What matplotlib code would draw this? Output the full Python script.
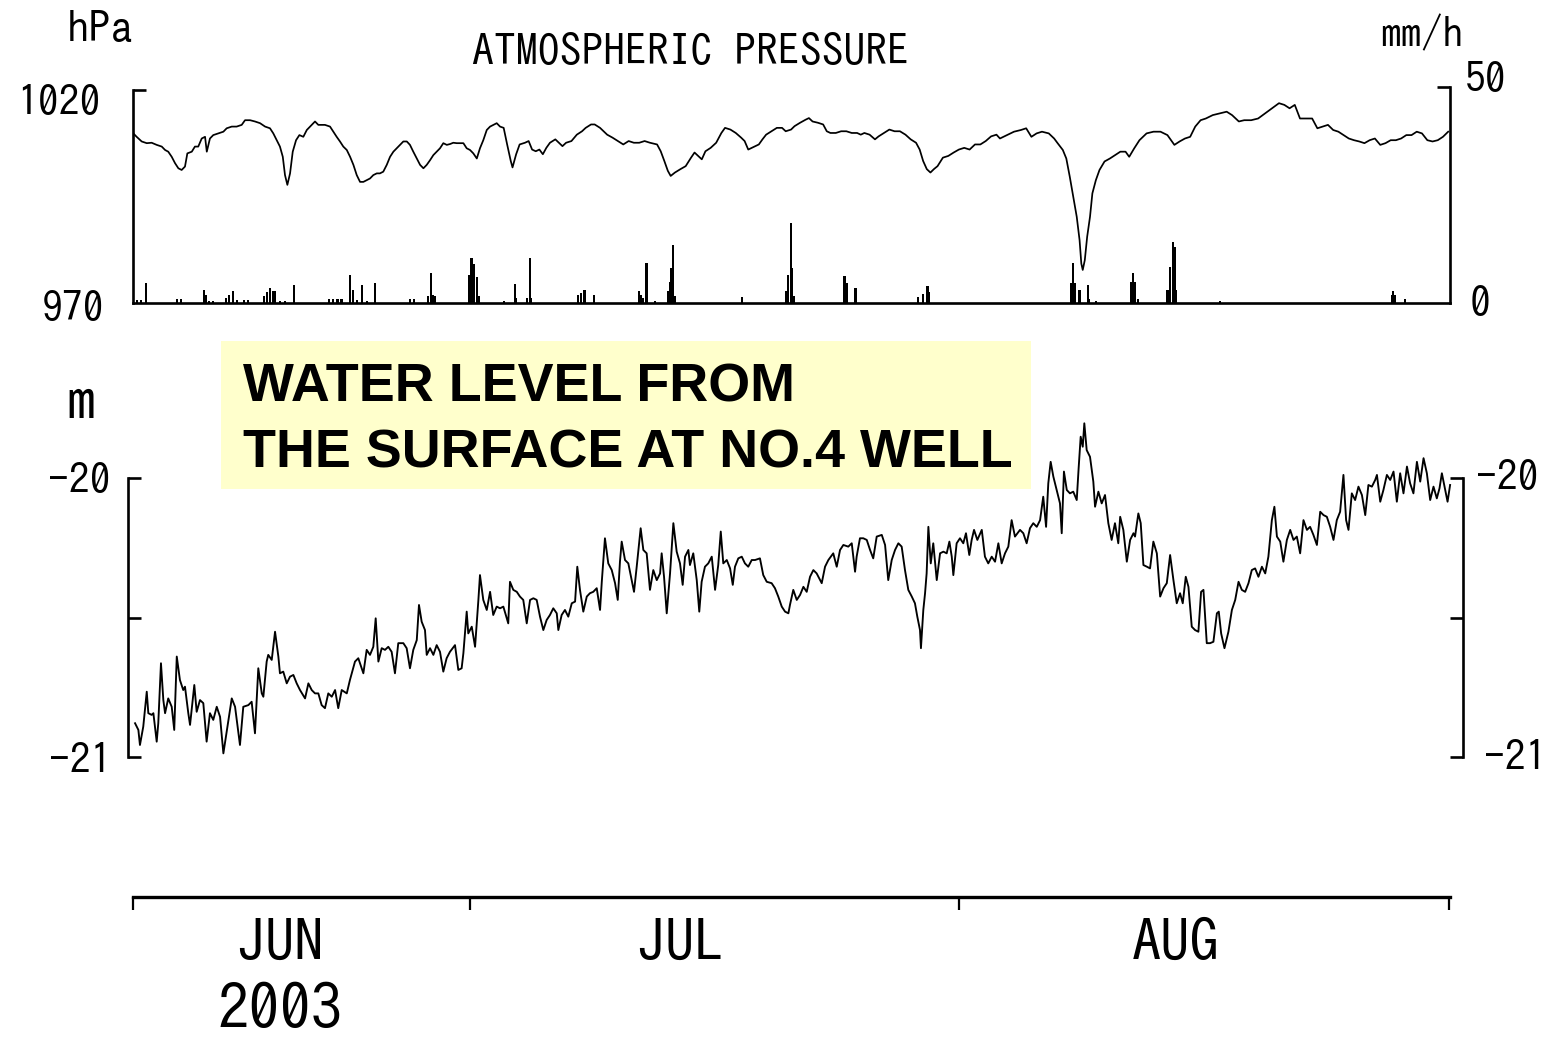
import matplotlib
matplotlib.use("Agg")
import matplotlib.pyplot as plt
from matplotlib.patches import Rectangle
from matplotlib.transforms import blended_transform_factory

# ---------------------------------------------------------------
# Data (time in days since 2003-06-01 00:00)
# ---------------------------------------------------------------
pressure_day = [
    8.72, 8.93, 9.25, 9.57, 9.88, 10.20, 10.52, 10.73, 10.93, 11.15, 11.36, 11.57,
    11.78, 11.99, 12.14, 12.42, 12.62, 12.83, 13.05, 13.26, 13.37, 13.57, 13.78, 14.10,
    14.42, 14.63, 14.95, 15.26, 15.58, 15.79, 16.11, 16.42, 16.74, 17.06, 17.37, 17.58,
    17.80, 18.00, 18.18, 18.32, 18.47, 18.64, 18.81, 19.02, 19.23, 19.48, 19.70, 20.01,
    20.22, 20.43, 20.64, 20.85, 21.17, 21.38, 21.59, 21.80, 22.01, 22.23, 22.44, 22.65,
    22.86, 23.07, 23.28, 23.49, 23.70, 23.91, 24.13, 24.33, 24.54, 24.76, 24.97, 25.18,
    25.39, 25.60, 25.81, 26.03, 26.23, 26.44, 26.66, 26.87, 27.08, 27.29, 27.50, 27.71,
    27.92, 28.13, 28.34, 28.56, 28.77, 28.97, 29.19, 29.40, 29.61, 29.82, 30.03, 30.24,
    30.46, 30.66, 30.87, 31.09, 31.30, 31.51, 31.72, 31.93,
    32.16, 32.38, 32.61, 32.72, 32.95, 33.17, 33.51, 33.74, 33.96, 34.19, 34.42, 34.64,
    34.86, 35.09, 35.43, 35.66, 35.88, 36.11, 36.45, 36.79, 37.12, 37.35, 37.69, 37.92,
    38.26, 38.49, 38.71, 39.05, 39.39, 39.73, 40.07, 40.40, 40.74, 41.08, 41.42, 41.87,
    42.10, 42.33, 42.55, 42.73, 43.00, 43.35, 43.68, 44.02, 44.24, 44.47, 44.70, 44.93,
    45.26, 45.61, 45.94, 46.17, 46.51, 46.85, 47.19, 47.41, 47.64, 47.86, 48.09, 48.31,
    48.54, 48.77, 49.11, 49.45, 49.78, 50.01, 50.35, 50.57, 50.92, 51.26, 51.48, 51.71,
    52.05, 52.38, 52.61, 52.84, 53.18, 53.52, 53.85, 54.19, 54.53, 54.76, 54.99, 55.32,
    55.66, 55.89, 56.23, 56.57, 56.90, 57.24, 57.59, 57.92, 58.26, 58.49, 58.71, 58.94,
    59.17, 59.39, 59.62, 59.96, 60.30, 60.64, 60.97, 61.31, 61.65, 61.99, 62.33, 62.67,
    63.01, 63.35,
    63.57, 64.02, 64.46, 64.90, 65.23, 65.56, 65.89, 66.23, 66.66, 67.00, 67.22, 67.55,
    67.77, 67.99, 68.21, 68.43, 68.61, 68.72, 68.81, 68.94, 69.09, 69.27, 69.42, 69.64,
    69.87, 70.19, 70.53, 70.86, 71.19, 71.52, 71.75, 72.07, 72.40, 72.85, 73.29, 73.73,
    74.17, 74.61, 74.94, 75.28, 75.61, 75.93, 76.27, 76.60, 77.04, 77.48, 77.92, 78.26,
    78.69, 79.03, 79.47, 79.91, 80.35, 80.80, 81.23, 81.57, 81.90, 82.23, 82.56, 82.89,
    83.33, 83.66, 83.99, 84.33, 84.66, 84.99, 85.32, 85.65, 85.98, 86.31, 86.64, 86.97,
    87.30, 87.64, 87.97, 88.30, 88.63, 88.96, 89.29, 89.62, 89.95, 90.28, 90.62, 90.95,
    91.28, 91.61, 91.94,
]
pressure_hpa = [
    1009.8, 1009.0, 1007.9, 1007.5, 1007.6, 1007.1, 1006.7, 1005.9, 1005.5, 1004.3, 1002.8, 1001.6,
    1001.2, 1002.0, 1005.1, 1005.5, 1006.7, 1006.7, 1008.6, 1009.0, 1005.5, 1008.6, 1009.4, 1009.8,
    1010.2, 1011.0, 1011.4, 1011.4, 1011.8, 1012.9, 1012.9, 1012.6, 1012.2, 1011.4, 1011.0, 1009.8,
    1008.2, 1006.7, 1004.3, 1000.0, 997.7, 1000.4, 1005.5, 1008.2, 1009.4, 1009.0, 1010.6, 1011.8,
    1012.6, 1011.8, 1011.8, 1011.8, 1011.4, 1010.2, 1009.0, 1007.9, 1006.7, 1005.9, 1004.3, 1002.4,
    1000.0, 998.4, 998.4, 998.8, 999.2, 1000.0, 1000.4, 1000.4, 1000.8, 1002.4, 1004.3, 1005.5,
    1006.3, 1007.1, 1007.9, 1007.9, 1007.1, 1005.5, 1003.9, 1002.4, 1001.6, 1002.4, 1003.5, 1004.7,
    1005.5, 1006.3, 1007.5, 1007.1, 1007.3, 1007.6, 1007.5, 1007.5, 1007.5, 1006.3, 1005.9, 1005.1,
    1003.9, 1006.3, 1008.2, 1010.6, 1011.4, 1011.8, 1012.2, 1011.4,
    1011.1, 1007.2, 1003.3, 1001.8, 1004.9, 1007.2, 1007.6, 1008.0, 1006.0, 1005.6, 1006.0, 1004.9,
    1006.4, 1007.6, 1008.4, 1007.6, 1006.8, 1007.6, 1008.0, 1009.5, 1010.3, 1011.1, 1011.9, 1011.9,
    1011.1, 1010.3, 1009.5, 1008.8, 1008.0, 1007.2, 1008.0, 1007.6, 1007.6, 1008.0, 1007.6, 1007.2,
    1005.6, 1003.3, 1001.0, 999.8, 1000.6, 1001.4, 1002.1, 1004.1, 1005.3, 1004.5, 1003.7, 1005.6,
    1006.4, 1007.6, 1009.9, 1011.1, 1010.7, 1009.9, 1008.8, 1008.0, 1006.0, 1006.4, 1006.8, 1007.2,
    1008.4, 1009.5, 1010.3, 1011.1, 1011.1, 1010.3, 1010.7, 1011.5, 1012.3, 1013.0, 1013.4, 1012.6,
    1012.3, 1011.9, 1010.3, 1009.9, 1009.9, 1010.3, 1010.3, 1009.9, 1009.9, 1009.5, 1009.9, 1009.5,
    1008.4, 1009.1, 1009.9, 1010.7, 1010.3, 1010.3, 1009.5, 1008.4, 1007.6, 1006.0, 1003.3, 1001.4,
    1000.6, 1001.4, 1002.1, 1004.1, 1004.5, 1005.3, 1006.0, 1006.4, 1006.0, 1007.2, 1007.2, 1008.0,
    1009.1, 1009.5,
    1008.6, 1009.4, 1010.2, 1010.6, 1011.0, 1009.0, 1009.8, 1010.2, 1009.8, 1008.6, 1007.5, 1005.9,
    1003.9, 999.6, 994.9, 990.2, 984.7, 979.2, 977.7, 980.0, 985.5, 990.2, 995.7, 998.8,
    1001.2, 1003.2, 1003.9, 1004.7, 1005.5, 1005.5, 1004.3, 1006.3, 1008.2, 1009.8, 1010.2, 1010.2,
    1009.4, 1007.1, 1007.9, 1008.6, 1009.0, 1011.4, 1012.9, 1013.3, 1014.1, 1014.5, 1014.9, 1014.1,
    1012.6, 1012.9, 1012.9, 1013.3, 1014.5, 1015.7, 1016.9, 1016.5, 1015.7, 1016.5, 1013.3, 1013.3,
    1013.3, 1011.0, 1011.4, 1011.8, 1010.6, 1010.2, 1009.4, 1008.6, 1008.2, 1007.9, 1007.5, 1008.2,
    1008.6, 1007.1, 1007.5, 1008.2, 1008.2, 1008.6, 1009.4, 1009.4, 1010.2, 1009.8, 1008.2, 1007.9,
    1008.2, 1009.0, 1010.2,
]

rain_day = [
    8.95, 9.21, 9.50, 11.49, 11.74, 13.17, 13.32, 13.51, 13.76, 14.59, 14.78, 15.01,
    15.28, 15.73, 15.98, 17.00, 17.18, 17.35, 17.56, 17.69, 18.00, 18.32, 18.91, 21.11,
    21.36, 21.64, 21.90, 22.44, 22.63, 22.88, 23.19, 23.51, 24.00, 26.23, 26.49, 27.37,
    27.56, 27.69, 27.82, 29.98, 30.07, 30.17, 30.29, 30.48, 30.58, 32.18, 32.87, 32.94,
    33.64, 33.83, 33.89, 36.87, 37.06, 37.28, 37.88, 40.73, 40.85, 40.98, 41.20, 41.74,
    42.56, 42.69, 42.78, 42.90, 43.01, 47.25, 50.03, 50.16, 50.33, 50.41, 50.54, 53.73,
    53.86, 54.43, 58.39, 58.71, 58.99, 59.08, 68.07, 68.21, 68.32, 68.61, 69.14, 69.21,
    69.66, 71.84, 71.97, 72.09, 72.31, 74.17, 74.34, 74.51, 74.62, 74.72, 77.48, 88.39,
    88.47, 88.57, 89.19,
]
rain_mmh = [
    0.6, 0.6, 4.5, 0.8, 0.8, 2.9, 1.8, 0.4, 0.4, 1.0, 1.8, 2.6,
    0.6, 0.6, 0.6, 1.5, 2.5, 3.3, 2.6, 2.6, 0.5, 0.5, 4.1, 0.8,
    0.8, 0.8, 0.8, 6.4, 2.9, 0.6, 4.1, 0.4, 4.5, 0.8, 0.8, 1.5,
    7.0, 1.8, 1.5, 6.4, 10.3, 10.3, 9.0, 6.0, 1.5, 0.4, 4.3, 1.0,
    1.0, 10.3, 1.0, 1.8, 2.2, 2.9, 1.8, 2.6, 1.8, 1.0, 9.1, 0.4,
    2.6, 4.9, 8.0, 13.4, 1.5, 1.4, 2.6, 6.4, 18.4, 8.0, 1.5, 6.1,
    4.5, 3.3, 1.4, 2.1, 3.9, 2.5, 4.6, 9.1, 4.6, 2.9, 4.1, 0.8,
    0.4, 4.9, 7.0, 4.9, 0.8, 2.9, 8.3, 14.1, 13.0, 2.9, 0.4, 1.8,
    2.6, 1.8, 0.8,
]

level_day = [
    8.83, 9.04, 9.14, 9.35, 9.57, 9.67, 9.88, 9.99, 10.20, 10.30, 10.47, 10.62,
    10.73, 10.93, 11.15, 11.31, 11.47, 11.67, 11.88, 11.99, 12.20, 12.31, 12.58, 12.73,
    12.94, 13.15, 13.36, 13.57, 13.78, 14.00, 14.21, 14.42, 14.63, 14.95, 15.16, 15.47,
    15.68, 16.00, 16.21, 16.42, 16.63, 16.85, 16.95, 17.16, 17.26, 17.48, 17.69, 17.90,
    18.00, 18.21, 18.43, 18.64, 18.85, 19.06, 19.27, 19.59, 19.80, 20.01, 20.22, 20.43,
    20.64, 20.85, 21.06, 21.28, 21.49, 21.69, 21.91, 22.23, 22.43, 22.75, 22.96, 23.28,
    23.49, 23.70, 23.91, 24.06, 24.23, 24.44, 24.65, 24.86, 25.07, 25.28, 25.49, 25.81,
    26.02, 26.23, 26.44, 26.66, 26.80, 26.97, 27.18, 27.29, 27.50, 27.71, 27.92, 28.13,
    28.34, 28.55, 28.76, 29.08, 29.29, 29.50, 29.61, 29.82, 29.92, 30.14,
    30.35, 30.56, 30.66, 30.87, 31.09, 31.30, 31.50, 31.72, 31.93, 32.14, 32.45, 32.56,
    32.77, 32.99, 33.19, 33.40, 33.62, 33.83, 34.04, 34.25, 34.46, 34.67, 34.88, 35.09,
    35.30, 35.52, 35.62, 35.83, 36.04, 36.25, 36.47, 36.68, 36.82, 36.99, 37.20, 37.42,
    37.62, 37.83, 38.05, 38.26, 38.37, 38.57, 38.78, 39.00, 39.21, 39.38, 39.52, 39.63,
    39.84, 40.05, 40.26, 40.41, 40.58, 40.83, 41.00, 41.21, 41.42, 41.63, 41.85, 42.06,
    42.16, 42.31, 42.48, 42.69, 42.90, 43.11, 43.32, 43.49, 43.64, 43.85, 43.95, 44.16,
    44.38, 44.54, 44.69, 44.90, 45.11, 45.33, 45.54, 45.74, 45.90, 46.06, 46.28, 46.49,
    46.66, 46.80, 47.01, 47.23, 47.43, 47.64, 47.86, 48.07, 48.38, 48.59, 48.81, 49.12,
    49.33, 49.54, 49.76, 49.97, 50.18, 50.28,
    50.49, 50.71, 50.92, 51.13, 51.34, 51.55, 51.76, 51.97, 52.29, 52.50, 52.71, 53.02,
    53.24, 53.45, 53.66, 53.97, 54.19, 54.40, 54.50, 54.71, 54.92, 55.14, 55.35, 55.55,
    55.77, 56.09, 56.30, 56.50, 56.72, 56.93, 57.14, 57.35, 57.56, 57.77, 57.99, 58.19,
    58.34, 58.51, 58.57, 58.72, 58.83, 58.93, 59.04, 59.19, 59.35, 59.57, 59.78, 59.99,
    60.20, 60.37, 60.52, 60.62, 60.83, 61.04, 61.25, 61.42, 61.63, 61.78, 61.93, 62.14,
    62.42, 62.62, 62.83, 63.05, 63.26, 63.47, 63.68, 63.89, 64.10, 64.31, 64.52, 64.84,
    65.05, 65.26, 65.47, 65.68, 65.90, 66.11, 66.31, 66.49, 66.63, 66.78, 66.95, 67.16,
    67.37, 67.48, 67.62, 67.80, 68.00, 68.21, 68.43, 68.55, 68.68, 68.81, 68.91, 69.06,
    69.27, 69.48, 69.59, 69.80, 70.01, 70.22, 70.43, 70.64, 70.85, 71.06,
    71.18, 71.38, 71.60, 71.81, 72.02, 72.12, 72.33, 72.48, 72.65, 72.87, 73.07, 73.28,
    73.50, 73.71, 73.92, 74.13, 74.34, 74.55, 74.76, 74.97, 75.14, 75.33, 75.50, 75.71,
    75.92, 76.13, 76.30, 76.45, 76.66, 76.87, 77.08, 77.30, 77.42, 77.57, 77.78, 78.03,
    78.25, 78.46, 78.67, 78.88, 79.09, 79.30, 79.51, 79.72, 79.93, 80.15, 80.36, 80.56,
    80.78, 80.94, 81.10, 81.31, 81.51, 81.73, 81.94, 82.15, 82.36, 82.57, 82.78, 83.00,
    83.20, 83.41, 83.63, 83.84, 84.05, 84.26, 84.47, 84.68, 84.89, 85.10, 85.31, 85.48,
    85.63, 85.84, 86.05, 86.26, 86.48, 86.69, 86.89, 87.11, 87.32, 87.43, 87.64, 87.84,
    88.06, 88.27, 88.48, 88.69, 88.90, 89.11, 89.33, 89.53, 89.74, 89.96, 90.17, 90.38,
    90.59, 90.80, 91.01, 91.22, 91.39, 91.54, 91.75, 91.90, 92.06,
]
level_m = [
    -20.879, -20.903, -20.957, -20.891, -20.766, -20.843, -20.849, -20.843, -20.945, -20.879, -20.664, -20.796,
    -20.843, -20.790, -20.820, -20.903, -20.640, -20.724, -20.760, -20.748, -20.843, -20.885, -20.742, -20.838,
    -20.796, -20.807, -20.945, -20.843, -20.867, -20.820, -20.856, -20.987, -20.909, -20.790, -20.820, -20.957,
    -20.820, -20.814, -20.802, -20.915, -20.682, -20.772, -20.784, -20.658, -20.634, -20.652, -20.551, -20.640,
    -20.700, -20.694, -20.736, -20.712, -20.706, -20.736, -20.760, -20.790, -20.736, -20.760, -20.772, -20.772,
    -20.814, -20.825, -20.772, -20.784, -20.760, -20.825, -20.760, -20.772, -20.724, -20.658, -20.646, -20.700,
    -20.616, -20.634, -20.605, -20.503, -20.658, -20.610, -20.616, -20.605, -20.623, -20.700, -20.592, -20.592,
    -20.610, -20.682, -20.616, -20.581, -20.455, -20.515, -20.545, -20.634, -20.610, -20.634, -20.599, -20.623,
    -20.694, -20.646, -20.623, -20.599, -20.688, -20.682, -20.628, -20.479, -20.557, -20.533,
    -20.605, -20.437, -20.348, -20.437, -20.473, -20.408, -20.491, -20.461, -20.467, -20.461, -20.521, -20.372,
    -20.401, -20.408, -20.425, -20.437, -20.521, -20.437, -20.431, -20.437, -20.497, -20.545, -20.509, -20.491,
    -20.467, -20.485, -20.545, -20.491, -20.473, -20.497, -20.449, -20.443, -20.318, -20.401, -20.479, -20.425,
    -20.413, -20.408, -20.395, -20.473, -20.372, -20.216, -20.306, -20.330, -20.377, -20.437, -20.300, -20.228,
    -20.294, -20.306, -20.366, -20.408, -20.318, -20.180, -20.258, -20.270, -20.401, -20.330, -20.366, -20.342,
    -20.270, -20.354, -20.485, -20.342, -20.162, -20.264, -20.306, -20.383, -20.282, -20.258, -20.312, -20.270,
    -20.366, -20.479, -20.372, -20.318, -20.306, -20.282, -20.401, -20.312, -20.192, -20.306, -20.294, -20.324,
    -20.383, -20.318, -20.288, -20.282, -20.306, -20.318, -20.294, -20.294, -20.288, -20.348, -20.372, -20.377,
    -20.395, -20.425, -20.461, -20.479, -20.485, -20.455,
    -20.401, -20.437, -20.419, -20.390, -20.408, -20.354, -20.330, -20.342, -20.377, -20.318, -20.294, -20.270,
    -20.318, -20.258, -20.240, -20.246, -20.234, -20.336, -20.282, -20.216, -20.216, -20.222, -20.258, -20.288,
    -20.210, -20.204, -20.240, -20.366, -20.294, -20.258, -20.234, -20.246, -20.330, -20.401, -20.425, -20.449,
    -20.497, -20.545, -20.610, -20.473, -20.413, -20.342, -20.175, -20.306, -20.234, -20.366, -20.270, -20.264,
    -20.270, -20.228, -20.282, -20.348, -20.234, -20.216, -20.234, -20.198, -20.276, -20.222, -20.186, -20.222,
    -20.186, -20.282, -20.306, -20.282, -20.300, -20.234, -20.306, -20.270, -20.246, -20.151, -20.210, -20.186,
    -20.198, -20.234, -20.180, -20.162, -20.175, -20.151, -20.067, -20.175, -20.019, -19.942, -19.995, -20.043,
    -20.091, -20.198, -19.977, -20.043, -20.055, -20.049, -20.079, -19.965, -19.852, -19.888, -19.804, -19.900,
    -19.924, -20.013, -20.103, -20.049, -20.091, -20.061, -20.162, -20.222, -20.162, -20.234,
    -20.139, -20.186, -20.300, -20.222, -20.198, -20.210, -20.127, -20.162, -20.312, -20.318, -20.324, -20.228,
    -20.270, -20.425, -20.395, -20.377, -20.276, -20.366, -20.449, -20.413, -20.449, -20.354, -20.390, -20.533,
    -20.545, -20.551, -20.408, -20.401, -20.592, -20.592, -20.587, -20.485, -20.479, -20.557, -20.610, -20.551,
    -20.473, -20.437, -20.372, -20.401, -20.408, -20.377, -20.330, -20.324, -20.354, -20.318, -20.342, -20.282,
    -20.151, -20.103, -20.210, -20.228, -20.300, -20.222, -20.186, -20.222, -20.210, -20.270, -20.151, -20.186,
    -20.175, -20.204, -20.240, -20.121, -20.133, -20.139, -20.175, -20.222, -20.151, -20.121, -19.989, -20.151,
    -20.186, -20.055, -20.079, -20.031, -20.061, -20.133, -20.025, -20.031, -20.007, -19.989, -20.085, -20.043,
    -19.989, -20.007, -19.977, -20.085, -19.983, -20.055, -19.959, -20.019, -20.055, -19.942, -20.013, -19.929,
    -19.983, -20.079, -20.031, -20.073, -20.037, -19.983, -20.043, -20.085, -20.025,
]

month_ticks = [8.7, 30.0, 61.0, 92.0]
month_labels = ["JUN", "JUL", "AUG"]
month_label_day = [18.0, 43.3, 74.7]
year_label = "2003"

# ---------------------------------------------------------------
# Figure layout (pixel boxes converted to figure fractions)
# ---------------------------------------------------------------
W, H = 1550, 1039
fig = plt.figure(figsize=(W / 100, H / 100), dpi=100)
fig.patch.set_facecolor("white")

GOTHIC = ["IPAGothic", "DejaVu Sans"]
BOLD_FONT = ["Liberation Sans", "DejaVu Sans"]


def box(left, top, right, bottom):
    return [left / W, 1 - bottom / H, (right - left) / W, (bottom - top) / H]


def fx(x):
    return x / W


def fy(y):
    return 1 - y / H


PX_PER_DAY = 15.8
X0_DAY = 8.7
X0_PX = 133.0


def day_at(px):
    return X0_DAY + (px - X0_PX) / PX_PER_DAY


SPINE_W = 1.9
TICK_LEN = 9.5
NUM_SIZE = 30

# ---------------- atmospheric pressure + rainfall ----------------
ax_p = fig.add_axes(box(133, 87, 1450, 302.7))
ax_p.set_xlim(day_at(133), day_at(1450))
ax_p.set_ylim(970, 970 + (302.7 - 87) / 4.254)
ax_p.plot(pressure_day, pressure_hpa, color="black", lw=1.25)
ax_p.patch.set_alpha(0)
for s in ["top", "right"]:
    ax_p.spines[s].set_visible(False)
ax_p.spines["left"].set_bounds(970, 1020)
ax_p.spines["left"].set_linewidth(SPINE_W)
ax_p.spines["bottom"].set_linewidth(SPINE_W)
ax_p.set_yticks([1020])
ax_p.set_yticklabels([])
ax_p.tick_params(axis="y", direction="in", length=TICK_LEN, width=SPINE_W)
ax_p.set_xticks([])

ax_r = ax_p.twinx()
ax_r.set_ylim(0, 50)
ax_r.bar(rain_day, rain_mmh, width=0.14, color="black", linewidth=0)
for s in ["top", "left", "bottom"]:
    ax_r.spines[s].set_visible(False)
ax_r.spines["right"].set_linewidth(SPINE_W)
ax_r.set_yticks([50])
ax_r.set_yticklabels([])
ax_r.tick_params(axis="y", direction="in", length=TICK_LEN, width=SPINE_W)

fig.text(fx(100), fy(28), "hPa", family=GOTHIC, fontsize=32, ha="center", va="center")
fig.text(fx(690), fy(52), "ATMOSPHERIC PRESSURE", family=GOTHIC, fontsize=31.5,
         ha="center", va="center")
fig.text(fx(1422), fy(34), "mm/h", family=GOTHIC, fontsize=30, ha="center", va="center")
fig.text(fx(101), fy(102), "1020", family=GOTHIC, fontsize=NUM_SIZE, ha="right", va="center")
fig.text(fx(104), fy(308), "970", family=GOTHIC, fontsize=NUM_SIZE, ha="right", va="center")
fig.text(fx(1465), fy(79), "50", family=GOTHIC, fontsize=NUM_SIZE, ha="left", va="center")
fig.text(fx(1470), fy(303), "0", family=GOTHIC, fontsize=NUM_SIZE, ha="left", va="center")

# ---------------- water level ----------------
ax_w = fig.add_axes(box(128, 415, 1463, 757))
ax_w.set_xlim(day_at(128), day_at(1463))
ax_w.set_ylim(-21, -20 + (478 - 415) / 279)
ax_w.plot(level_day, level_m, color="black", lw=1.35)
ax_w.patch.set_alpha(0)
for s in ["top", "bottom"]:
    ax_w.spines[s].set_visible(False)
for s in ["left", "right"]:
    ax_w.spines[s].set_bounds(-21, -20)
    ax_w.spines[s].set_linewidth(SPINE_W)
ax_w.set_xticks([])
ax_w.set_yticks([-21, -20.5, -20])
ax_w.set_yticklabels([])
ax_w.tick_params(axis="y", which="both", direction="in", length=TICK_LEN, width=SPINE_W,
                 left=True, right=True)

fig.text(fx(81), fy(401), "m", family=GOTHIC, fontsize=42, ha="center", va="center")
fig.text(fx(111), fy(480), "-20", family=GOTHIC, fontsize=NUM_SIZE, ha="right", va="center")
fig.text(fx(111), fy(760), "-21", family=GOTHIC, fontsize=NUM_SIZE, ha="right", va="center")
fig.text(fx(1476), fy(477), "-20", family=GOTHIC, fontsize=NUM_SIZE, ha="left", va="center")
fig.text(fx(1484), fy(757), "-21", family=GOTHIC, fontsize=NUM_SIZE, ha="left", va="center")

# highlighted caption
fig.patches.append(Rectangle((fx(221), fy(489)), (1031 - 221) / W, (489 - 341) / H,
                             transform=fig.transFigure, facecolor="#FFFFCC",
                             edgecolor="none", zorder=0))
fig.text(fx(243), fy(402), "WATER LEVEL FROM", family=BOLD_FONT, weight="bold",
         fontsize=38.8, ha="left", va="baseline")
fig.text(fx(243), fy(467), "THE SURFACE AT NO.4 WELL", family=BOLD_FONT, weight="bold",
         fontsize=38.8, ha="left", va="baseline")

# ---------------- time axis ----------------
ax_t = fig.add_axes(box(133, 880, 1450, 897))
ax_t.set_xlim(day_at(133), day_at(1450))
ax_t.patch.set_alpha(0)
for s in ["top", "left", "right"]:
    ax_t.spines[s].set_visible(False)
ax_t.spines["bottom"].set_linewidth(2.4)
ax_t.set_yticks([])
ax_t.set_xticks(month_ticks)
ax_t.set_xticklabels([])
ax_t.tick_params(axis="x", direction="out", length=TICK_LEN, width=1.6)

trans = blended_transform_factory(ax_t.transData, fig.transFigure)
for d, lab in zip(month_label_day, month_labels):
    ax_t.text(d, fy(942), lab, transform=trans, family=GOTHIC, fontsize=42,
              ha="center", va="center")
ax_t.text(month_label_day[0], fy(1009), year_label, transform=trans, family=GOTHIC,
          fontsize=45, ha="center", va="center")

fig.savefig("out.png", dpi=100, facecolor="white")
